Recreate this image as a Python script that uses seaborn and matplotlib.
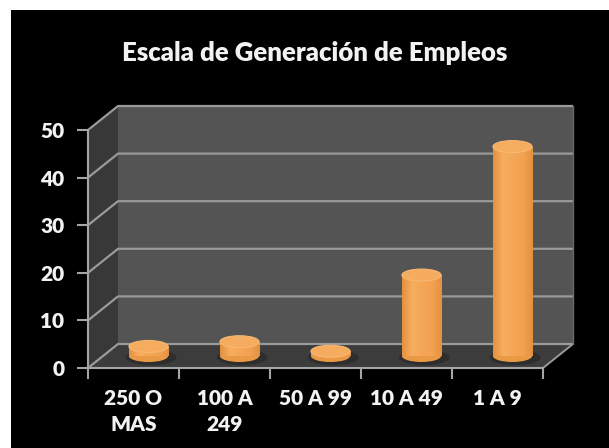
import numpy as np
import matplotlib
matplotlib.use('Agg')
import matplotlib.pyplot as plt
from matplotlib.patches import Polygon, Ellipse, Rectangle
from matplotlib.colors import LinearSegmentedColormap
import seaborn as sns

# Datos del grafico
categorias = ['250 O\nMAS', '100 A\n249', '50 A 99', '10 A 49', '1 A 9']
empleos = [2, 3, 1, 17, 44]
ticks_y = [0, 10, 20, 30, 40, 50]
titulo = 'Escala de Generación de Empleos'

sns.set_theme(style='dark')
plt.rcParams['font.family'] = ['Lato', 'DejaVu Sans']

W, H = 609, 448
fig = plt.figure(figsize=(W / 100, H / 100), dpi=100, facecolor='white')
fig.add_artist(Rectangle((11 / W, 0), 1 - 11 / W, (H - 10) / H,
                         transform=fig.transFigure, facecolor='black',
                         edgecolor='none', zorder=-5))

ax = fig.add_axes([88 / W, 80 / H, 455 / W, 238 / H])
ax.set_facecolor('none')
ax.grid(False)

# profundidad falsa (en unidades de datos)
dx = 30 / (455 / 5)
dy = 24 / (238 / 50)
x0, x1, ytop = -0.5, 4.5, 50
grid_col = '#9a9a9a'

# paredes y piso
ax.add_patch(Polygon([(x0 + dx, dy), (x1 + dx, dy), (x1 + dx, ytop + dy), (x0 + dx, ytop + dy)],
                     closed=True, fc='#545454', ec='none', zorder=0, clip_on=False))
ax.add_patch(Polygon([(x0, 0), (x0 + dx, dy), (x0 + dx, ytop + dy), (x0, ytop)],
                     closed=True, fc='#383838', ec='none', zorder=0, clip_on=False))
ax.add_patch(Polygon([(x0, 0), (x1, 0), (x1 + dx, dy), (x0 + dx, dy)],
                     closed=True, fc='#3c3c3c', ec='none', zorder=0.5, clip_on=False))
for t in ticks_y:
    ax.plot([x0, x0 + dx, x1 + dx], [t, t + dy, t + dy], color=grid_col, lw=1.6,
            zorder=0.6, clip_on=False, solid_capstyle='butt')
ax.plot([x1, x1 + dx], [0, dy], color=grid_col, lw=1.4, zorder=0.6, clip_on=False)
ax.plot([x1 + dx, x1 + dx], [dy, ytop + dy], color='#6a6a6a', lw=1, zorder=0.6, clip_on=False)

# cilindros
bw = 0.43
eh = 12 / (238 / 50)
sns.barplot(x=categorias, y=empleos, color='#F4A452', saturation=1, width=bw,
            ax=ax, zorder=2)
cmap = LinearSegmentedColormap.from_list('cil', ['#E3913F', '#F7AD5F', '#F5A757', '#F2A250', '#E39340'])
grad = np.linspace(0, 1, 64).reshape(1, -1)
for i, bar in enumerate(ax.patches[-len(empleos):]):
    bar.set_x(bar.get_x() + dx / 2)
    bar.set_y(dy / 2)
    bar.set_edgecolor('none')
    cx = bar.get_x() + bw / 2
    v = empleos[i]
    ax.add_patch(Ellipse((cx + 0.03, dy / 2 - 0.3), bw * 1.3, eh * 1.3,
                         fc='#262626', ec='none', alpha=0.6, zorder=1))
    ax.add_patch(Ellipse((cx, dy / 2), bw, eh, fc='#EA9A45', ec='none', zorder=1.5))
    im = ax.imshow(grad, cmap=cmap, aspect='auto', zorder=2.5,
                   extent=[bar.get_x(), bar.get_x() + bw, dy / 2, dy / 2 + v])
    im.set_clip_path(bar)
    ax.add_patch(Ellipse((cx, dy / 2 + v), bw, eh, fc='#F6AC5E', ec='#F8B875',
                         lw=0.8, zorder=3))

ax.set_xlim(x0, x1)
ax.set_ylim(0, ytop)

# ejes
for s in ['top', 'right']:
    ax.spines[s].set_visible(False)
for s in ['left', 'bottom']:
    ax.spines[s].set_visible(True)
    ax.spines[s].set_color('#a5a5a5')
    ax.spines[s].set_linewidth(1.5)
ax.set_yticks(ticks_y)
ax.set_xticks(range(len(categorias)))
ax.set_xticklabels(categorias)
ax.set_xticks(np.arange(-0.5, 5, 1), minor=True)
ax.tick_params(axis='y', length=8, width=1.5, color='#a5a5a5', pad=9,
               labelsize=15, labelcolor='#f2f2f2', left=True)
ax.tick_params(axis='x', which='major', length=0, pad=15, labelsize=15, labelcolor='#f2f2f2')
ax.tick_params(axis='x', which='minor', length=8, width=1.5, color='#a5a5a5', bottom=True)
for lab in ax.get_yticklabels() + ax.get_xticklabels():
    lab.set_fontweight('heavy')
for lab in ax.get_xticklabels():
    lab.set_linespacing(1.45)
    lab.set_va('top')
ax.set_xlabel('')
ax.set_ylabel('')

fig.text(315 / W, 1 - 53 / H, titulo, ha='center', va='center', fontsize=18.5,
         fontweight='heavy', color='#f2f2f2')

fig.savefig('out.png', dpi=100, facecolor=fig.get_facecolor())
